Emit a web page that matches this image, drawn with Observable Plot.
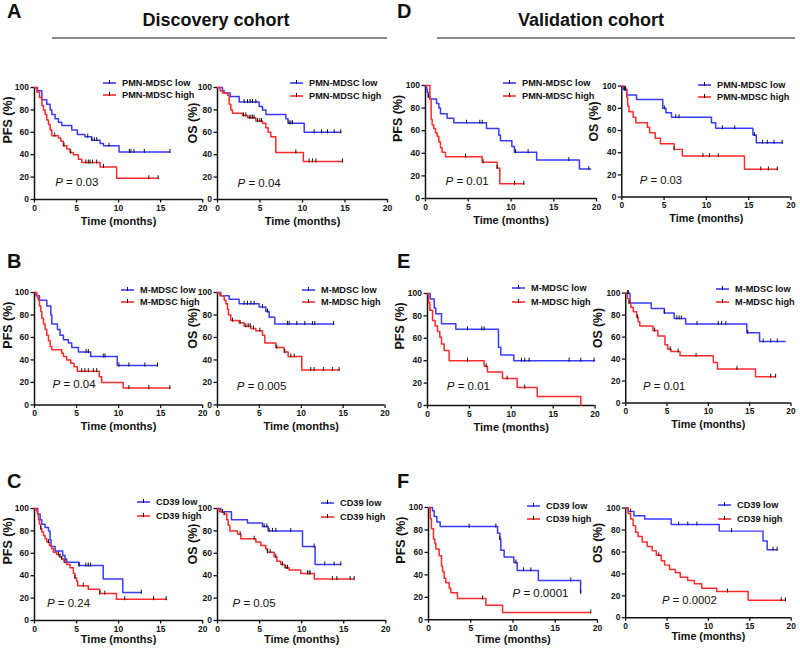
<!DOCTYPE html>
<html><head><meta charset="utf-8">
<script src="https://cdn.jsdelivr.net/npm/d3@7"></script>
<script src="https://cdn.jsdelivr.net/npm/@observablehq/plot@0.6"></script>
<style>
body{margin:0;background:#fff;font-family:"Liberation Sans",Arial,sans-serif;}
#root{position:relative;width:800px;height:650px;overflow:hidden;background:#fff;}
.panel{position:absolute;}
#overlay{position:absolute;left:0;top:0;}
</style></head><body><div id="root"></div>
<script>
// ---------- axis ticks ----------
const xTicks = [0, 5, 10, 15, 20];
const yTicks = [0, 20, 40, 60, 80, 100];

// ---------- Discovery cohort, PMN-MDSC ----------
const A_PFS_low_t = [0, 0.36, 0.87, 1.46, 1.86, 2.06, 2.45, 2.85, 3.25, 4.43, 5.1, 6.0, 6.8, 7.8, 8.2, 10.05, 16.1];
const A_PFS_low_s = [100, 97, 89, 85, 80, 76, 72, 69, 66, 62, 58, 56, 53, 50, 48, 42.5, 42.5];
const A_PFS_low_c = [6.33, 6.81, 7.12, 7.4, 8.86, 11.28, 11.47, 11.83, 13.06, 16.1];
const A_PFS_high_t = [0, 0.28, 0.59, 0.87, 1.07, 1.27, 1.46, 1.66, 1.86, 2.06, 2.85, 3.13, 3.44, 3.84, 4.23, 4.63, 5.22, 5.62, 7.8, 9.77, 14.7];
const A_PFS_high_s = [100, 96, 91, 84, 80, 76, 71, 67, 62, 57, 55, 52, 48, 45, 42, 40, 36, 33, 29, 19, 19];
const A_PFS_high_c = [2.4, 3.5, 4.3, 6.1, 6.4, 6.6, 6.9, 7.4, 8.2, 13.6, 14.7];

const A_OS_low_t = [0, 0.59, 0.78, 1.49, 2.55, 4.9, 5.3, 5.7, 8.04, 8.3, 10.2, 14.5];
const A_OS_low_s = [100, 97, 95, 92, 87, 83, 80, 76, 72, 68, 60, 60];
const A_OS_low_c = [3.14, 3.53, 3.84, 4.12, 4.51, 8.43, 8.63, 8.82, 11.37, 12.24, 12.94, 13.73, 14.5];
const A_OS_high_t = [0, 0.31, 0.59, 1.18, 1.37, 1.57, 1.76, 2.94, 3.53, 4.51, 5.29, 5.69, 5.96, 6.27, 6.86, 10.1, 14.7];
const A_OS_high_s = [100, 97, 95, 93, 85, 80, 77, 75, 73, 70, 68, 64, 60, 56, 42, 34, 34];
const A_OS_high_c = [3.06, 3.33, 3.73, 3.92, 4.12, 4.31, 4.71, 4.98, 5.18, 9.22, 10.78, 11.18, 11.57, 14.7];

// ---------- Validation cohort, PMN-MDSC ----------
const D_PFS_low_t = [0, 0.12, 0.19, 0.31, 0.51, 1.29, 1.56, 1.75, 2.53, 3.31, 7.13, 8.58, 8.77, 10.1, 10.4, 13.0, 18.0, 19.3];
const D_PFS_low_s = [100, 97, 94, 90, 88, 84, 80, 75, 71, 67, 62, 56, 51, 46, 41, 34, 26, 26];
const D_PFS_low_c = [0.35, 4.8, 6.35, 6.63, 10.53, 12.0, 16.76, 19.1];
const D_PFS_high_t = [0, 0.51, 0.66, 0.78, 0.97, 1.17, 1.36, 1.56, 1.75, 1.95, 2.34, 6.63, 8.38, 8.69, 11.5];
const D_PFS_high_s = [100, 88, 70, 65, 62, 58, 55, 50, 45, 41, 37, 32, 27, 13, 13];
const D_PFS_high_c = [4.68, 6.74, 8.38, 10.41, 11.5];

const D_OS_low_t = [0, 0.19, 0.58, 1.74, 4.84, 5.22, 5.88, 10.6, 11.1, 15.5, 15.9, 19.0];
const D_OS_low_s = [100, 97, 92, 88, 80, 76, 72, 67, 62, 56, 49, 49];
const D_OS_low_c = [0.31, 0.46, 5.03, 6.38, 6.77, 11.9, 13.35, 15.67, 16.63, 17.2, 17.99, 18.96];
const D_OS_high_t = [0, 0.39, 0.58, 0.70, 0.85, 1.35, 1.66, 3.02, 3.29, 3.95, 4.56, 6.19, 7.16, 14.5, 18.4];
const D_OS_high_s = [100, 97, 90, 82, 77, 72, 67, 63, 58, 53, 48, 43, 37, 25, 25];
const D_OS_high_c = [0.39, 6.19, 9.59, 10.37, 11.41, 16.44, 17.33, 18.38];

// ---------- Discovery cohort, M-MDSC ----------
const B_PFS_low_t = [0, 0.16, 0.59, 1.46, 1.94, 2.06, 2.73, 3.04, 3.44, 4.03, 4.43, 5.22, 6.68, 9.84, 14.6];
const B_PFS_low_s = [100, 97, 93, 88, 80, 72, 67, 62, 58, 55, 51, 47, 43, 35, 35];
const B_PFS_low_c = [6.13, 6.4, 8.18, 8.38, 10.04, 11.23, 13.12, 14.62];
const B_PFS_high_t = [0, 0.28, 0.36, 0.47, 0.59, 0.75, 0.87, 1.07, 1.26, 1.46, 1.66, 1.86, 2.06, 3.24, 3.44, 3.83, 4.31, 4.70, 5.1, 7.71, 7.98, 10.55, 16.1];
const B_PFS_high_s = [100, 97, 95, 93, 88, 83, 77, 72, 67, 62, 57, 52, 49, 46, 43, 40, 37, 34, 30, 25, 20, 15, 15];
const B_PFS_high_c = [5.61, 6.0, 6.4, 7.0, 7.39, 11.23, 13.6, 16.1];

const B_OS_low_t = [0, 0.40, 1.39, 2.58, 4.97, 5.77, 6.16, 6.84, 13.9];
const B_OS_low_s = [100, 97, 94, 90, 87, 83, 78, 72, 72];
const B_OS_low_c = [3.18, 3.58, 3.98, 4.37, 5.37, 5.96, 8.35, 8.55, 9.46, 10.42, 11.33, 11.61, 13.84];
const B_OS_high_t = [0, 0.28, 0.80, 0.99, 1.19, 1.31, 1.59, 2.58, 3.18, 3.98, 4.57, 5.37, 5.65, 6.96, 7.95, 8.43, 10.06, 14.5];
const B_OS_high_s = [100, 97, 93, 90, 85, 80, 75, 73, 70, 68, 66, 62, 55, 51, 47, 43, 31, 31];
const B_OS_high_c = [1.79, 2.7, 3.38, 3.66, 3.9, 4.29, 5.05, 7.08, 8.03, 8.75, 9.15, 11.13, 11.53, 12.64, 13.72, 14.51];

// ---------- Validation cohort, M-MDSC ----------
const E_PFS_low_t = [0, 0.32, 0.80, 0.99, 1.67, 3.38, 8.47, 8.75, 10.3, 19.9];
const E_PFS_low_s = [100, 95, 87, 82, 73, 68, 52, 45, 40, 40];
const E_PFS_low_c = [4.77, 6.48, 6.76, 11.21, 11.61, 12.13, 16.9, 18.29, 19.88];
const E_PFS_high_t = [0, 0.12, 0.28, 0.60, 0.91, 1.19, 1.47, 1.67, 1.99, 2.58, 6.76, 7.16, 8.95, 10.7, 13.1, 18.3];
const E_PFS_high_s = [100, 92, 85, 76, 71, 66, 61, 55, 49, 40, 35, 30, 24, 16, 8, 0];
const E_PFS_high_c = [4.77, 7.0, 9.5, 11.6];

const E_OS_low_t = [0, 0.51, 3.09, 4.67, 5.86, 7.25, 14.65, 16.2, 19.3];
const E_OS_low_s = [100, 91, 86, 82, 77, 72, 64, 56, 56];
const E_OS_low_c = [0.2, 0.32, 4.67, 6.18, 6.46, 6.73, 8.63, 11.2, 11.6, 12.12, 14.77, 16.63, 17.54, 18.34];
const E_OS_high_t = [0, 0.2, 0.40, 0.63, 0.91, 1.31, 1.50, 1.70, 3.29, 3.88, 4.75, 5.07, 5.47, 6.57, 10.6, 11.1, 15.7, 18.1];
const E_OS_high_s = [100, 95, 91, 87, 83, 78, 74, 70, 66, 61, 53, 49, 47, 43, 37, 31, 24, 24];
const E_OS_high_c = [0.4, 1.43, 3.49, 5.39, 6.34, 8.51, 13.47, 17.54, 18.14];

// ---------- Discovery cohort, CD39 ----------
const C_PFS_low_t = [0, 0.39, 0.67, 0.87, 1.26, 1.66, 1.85, 1.97, 2.45, 3.35, 3.63, 3.83, 5.29, 8.17, 10.5, 12.7];
const C_PFS_low_s = [100, 95, 90, 86, 83, 80, 72, 66, 62, 58, 55, 52, 49, 37, 25, 25];
const C_PFS_low_c = [5.29, 6.11, 6.39, 6.67, 12.7];
const C_PFS_high_t = [0, 0.2, 0.35, 0.47, 0.59, 0.75, 0.87, 1.07, 1.26, 1.46, 1.78, 2.05, 2.25, 2.64, 2.96, 3.23, 3.51, 3.83, 4.22, 4.62, 4.81, 5.01, 5.13, 6.39, 7.77, 9.74, 15.7];
const C_PFS_high_s = [100, 98, 95, 90, 86, 82, 79, 76, 73, 70, 67, 64, 61, 59, 57, 55, 52, 50, 47, 42, 38, 35, 31, 28, 24, 19, 19];
const C_PFS_high_c = [0.75, 1.66, 2.84, 3.04, 3.23, 3.63, 4.81, 5.8, 7.77, 8.36, 10.73, 14.16, 15.66];

const C_OS_low_t = [0, 0.40, 1.66, 3.56, 5.35, 6.02, 10.1, 11.6, 14.65];
const C_OS_low_s = [100, 97, 90, 87, 84, 80, 66, 50, 50];
const C_OS_low_c = [0.59, 5.54, 5.86, 6.14, 6.53, 6.93, 8.71, 11.49, 12.75, 13.86, 14.65];
const C_OS_high_t = [0, 0.2, 0.79, 1.11, 1.27, 1.47, 2.38, 2.77, 4.55, 5.15, 5.74, 5.94, 6.73, 7.05, 7.52, 8.0, 8.51, 9.9, 11.5, 16.2];
const C_OS_high_s = [100, 97, 95, 90, 85, 80, 77, 73, 70, 67, 64, 61, 57, 53, 50, 47, 45, 42, 37, 37];
const C_OS_high_c = [0.79, 2.69, 4.36, 5.94, 6.26, 6.93, 7.72, 8.12, 8.32, 10.69, 10.89, 11.01, 13.66, 14.18, 15.76, 16.24];

// ---------- Validation cohort, CD39 ----------
const F_PFS_low_t = [0, 0.47, 0.67, 0.99, 1.38, 8.17, 8.44, 8.56, 8.95, 10.1, 10.5, 13.0, 18.0];
const F_PFS_low_s = [100, 97, 92, 87, 83, 77, 72, 62, 56, 51, 44, 35, 24];
const F_PFS_low_c = [4.81, 7.97, 8.44, 10.34, 11.24, 12.11, 16.84, 18.0];
const F_PFS_high_t = [0, 0.2, 0.35, 0.59, 0.75, 0.87, 1.26, 1.54, 1.66, 1.85, 2.05, 2.45, 2.64, 3.43, 6.79, 8.76, 19.2];
const F_PFS_high_s = [100, 90, 81, 72, 68, 63, 57, 48, 43, 37, 33, 28, 24, 19, 13, 6.5, 6.5];
const F_PFS_high_c = [6.4, 19.2];

const F_OS_low_t = [0, 0.3, 1.0, 2.3, 5.5, 11.3, 16.6, 17.1, 18.3];
const F_OS_low_s = [100, 97, 93, 90, 85, 79, 70, 62, 62];
const F_OS_low_c = [0.6, 6.4, 7.5, 8.6, 12.8, 17.8, 18.3];
const F_OS_high_t = [0, 0.3, 0.6, 0.9, 1.2, 1.5, 2.0, 2.6, 3.2, 3.7, 4.3, 4.7, 5.3, 6.0, 6.6, 7.5, 8.3, 9.2, 11.0, 14.8, 19.3];
const F_OS_high_s = [100, 95, 90, 84, 78, 74, 69, 65, 61, 57, 52, 48, 44, 41, 37, 34, 31, 27, 24, 16, 16];
const F_OS_high_c = [4.0, 12.3, 18.8, 19.3];

// ---------- texts ----------
const groupNames = {
  PMN: ["PMN-MDSC low", "PMN-MDSC high"],
  M: ["M-MDSC low", "M-MDSC high"],
  CD39: ["CD39 low", "CD39 high"]
};
const pValues = {A_PFS: "0.03", A_OS: "0.04", D_PFS: "0.01", D_OS: "0.03",
  B_PFS: "0.04", B_OS: "0.005", E_PFS: "0.01", E_OS: "0.01",
  C_PFS: "0.24", C_OS: "0.05", F_PFS: "0.0001", F_OS: "0.0002"};
const cohortTitles = ["Discovery cohort", "Validation cohort"];
const panelLetters = ["A", "B", "C", "D", "E", "F"];

// ---------- panel definitions ----------
const panels = [
  {id: "A_PFS", ylab: "PFS (%)", grp: "PMN", low: [A_PFS_low_t, A_PFS_low_s, A_PFS_low_c], high: [A_PFS_high_t, A_PFS_high_s, A_PFS_high_c]},
  {id: "A_OS", ylab: "OS (%)", grp: "PMN", low: [A_OS_low_t, A_OS_low_s, A_OS_low_c], high: [A_OS_high_t, A_OS_high_s, A_OS_high_c]},
  {id: "D_PFS", ylab: "PFS (%)", grp: "PMN", low: [D_PFS_low_t, D_PFS_low_s, D_PFS_low_c], high: [D_PFS_high_t, D_PFS_high_s, D_PFS_high_c]},
  {id: "D_OS", ylab: "OS (%)", grp: "PMN", low: [D_OS_low_t, D_OS_low_s, D_OS_low_c], high: [D_OS_high_t, D_OS_high_s, D_OS_high_c]},
  {id: "B_PFS", ylab: "PFS (%)", grp: "M", low: [B_PFS_low_t, B_PFS_low_s, B_PFS_low_c], high: [B_PFS_high_t, B_PFS_high_s, B_PFS_high_c]},
  {id: "B_OS", ylab: "OS (%)", grp: "M", low: [B_OS_low_t, B_OS_low_s, B_OS_low_c], high: [B_OS_high_t, B_OS_high_s, B_OS_high_c]},
  {id: "E_PFS", ylab: "PFS (%)", grp: "M", low: [E_PFS_low_t, E_PFS_low_s, E_PFS_low_c], high: [E_PFS_high_t, E_PFS_high_s, E_PFS_high_c]},
  {id: "E_OS", ylab: "OS (%)", grp: "M", low: [E_OS_low_t, E_OS_low_s, E_OS_low_c], high: [E_OS_high_t, E_OS_high_s, E_OS_high_c]},
  {id: "C_PFS", ylab: "PFS (%)", grp: "CD39", low: [C_PFS_low_t, C_PFS_low_s, C_PFS_low_c], high: [C_PFS_high_t, C_PFS_high_s, C_PFS_high_c]},
  {id: "C_OS", ylab: "OS (%)", grp: "CD39", low: [C_OS_low_t, C_OS_low_s, C_OS_low_c], high: [C_OS_high_t, C_OS_high_s, C_OS_high_c]},
  {id: "F_PFS", ylab: "PFS (%)", grp: "CD39", low: [F_PFS_low_t, F_PFS_low_s, F_PFS_low_c], high: [F_PFS_high_t, F_PFS_high_s, F_PFS_high_c]},
  {id: "F_OS", ylab: "OS (%)", grp: "CD39", low: [F_OS_low_t, F_OS_low_s, F_OS_low_c], high: [F_OS_high_t, F_OS_high_s, F_OS_high_c]}
];

// ---------- layout (pixel geometry, separate from data) ----------
const layout = {
  A_PFS: {x0: 34.3, x20: 202.5, y100: 87.3, y0: 199.3, lab: -27, tdy: 25.5, leg: [103, 83, 95], p: [20.7, 13.3]},
  A_OS:  {x0: 216.7, x20: 386.7, y100: 87.3, y0: 199.3, lab: -25, tdy: 25.5, leg: [290, 83, 96], p: [20, 12.6]},
  D_PFS: {x0: 425, x20: 596, y100: 85.3, y0: 198.3, lab: -28, tdy: 25.5, leg: [503, 83, 96], p: [20, 13.3]},
  D_OS:  {x0: 621.7, x20: 794, y100: 86.3, y0: 199.3, lab: -28.5, tdy: 25.5, leg: [698, 85, 97], p: [18.3, 13.6]},
  B_PFS: {x0: 34.3, x20: 202.5, y100: 292.3, y0: 404.7, lab: -27, tdy: 25.5, leg: [121, 290, 302], p: [18, 16.4]},
  B_OS:  {x0: 216.7, x20: 384.3, y100: 292.3, y0: 404.7, lab: -25, tdy: 25.5, leg: [302, 290, 302], p: [19.3, 14.7]},
  E_PFS: {x0: 426.7, x20: 594.3, y100: 293, y0: 405, lab: -28, tdy: 25.5, leg: [512, 288, 302], p: [19.3, 15]},
  E_OS:  {x0: 625.7, x20: 794, y100: 293.3, y0: 405.3, lab: -28.5, tdy: 25.5, leg: [716, 289, 302], p: [17.6, 13.6]},
  C_PFS: {x0: 34.3, x20: 202.5, y100: 508, y0: 620, lab: -27, tdy: 23, leg: [137, 502, 516], p: [12.4, 13.3]},
  C_OS:  {x0: 216.7, x20: 385, y100: 508, y0: 620, lab: -25, tdy: 23, leg: [321, 503, 517], p: [15, 13.3]},
  F_PFS: {x0: 427.7, x20: 596.7, y100: 507, y0: 619.3, lab: -28, tdy: 23, leg: [527, 506, 519], p: [84, 22.6]},
  F_OS:  {x0: 625.5, x20: 794.5, y100: 508, y0: 620, lab: -28.5, tdy: 23, leg: [718, 505, 519], p: [37, 14]}
};

const BLUE = "#3a3aff", RED = "#ff2a2a", INK = "#111";
const FONT = "'Liberation Sans', Arial, Helvetica, sans-serif";
const ML = 40, MR = 10, MT = 20, MB = 36;

function steps(t, s) { return t.map((ti, i) => ({t: ti, s: s[i]})); }
function censors(t, s, c) {
  return c.map(ci => {
    let v = s[0];
    for (let i = 0; i < t.length; i++) if (t[i] <= ci) v = s[i];
    return {t: ci, s: v};
  });
}
const tickSymbol = {
  draw(ctx, size) {
    const h = Math.sqrt(size / Math.PI);
    ctx.moveTo(0, -h);
    ctx.lineTo(0, h * 0.35);
  }
};

const root = document.getElementById("root");

for (const pn of panels) {
  const g = layout[pn.id];
  const W = ML + (g.x20 - g.x0) + MR;
  const H = MT + (g.y0 - g.y100) + MB;
  const lowLine = steps(pn.low[0], pn.low[1]);
  const highLine = steps(pn.high[0], pn.high[1]);
  const lowC = censors(pn.low[0], pn.low[1], pn.low[2]);
  const highC = censors(pn.high[0], pn.high[1], pn.high[2]);
  const chart = Plot.plot({
    width: W, height: H,
    marginLeft: ML, marginRight: MR, marginTop: MT, marginBottom: MB,
    x: {domain: [0, 20]},
    y: {domain: [0, 100]},
    style: {fontFamily: FONT, background: "transparent", overflow: "visible", color: INK},
    marks: [
      Plot.axisX({ticks: xTicks, tickSize: 3.5, tickPadding: 2, fontSize: 8.5, fontWeight: "bold", label: null, strokeWidth: 1.3, stroke: INK, fill: INK}),
      Plot.axisY({ticks: yTicks, tickSize: 3.5, tickPadding: 2, fontSize: 8.5, fontWeight: "bold", label: null, strokeWidth: 1.3, stroke: INK, fill: INK}),
      Plot.ruleX([0], {stroke: INK, strokeWidth: 1.5}),
      Plot.ruleY([0], {stroke: INK, strokeWidth: 1.5}),
      Plot.line(lowLine, {x: "t", y: "s", curve: "step-after", stroke: BLUE, strokeWidth: 1.5}),
      Plot.line(highLine, {x: "t", y: "s", curve: "step-after", stroke: RED, strokeWidth: 1.5}),
      Plot.dot(lowC, {x: "t", y: "s", symbol: tickSymbol, r: 3, fill: "none", stroke: INK, strokeWidth: 1}),
      Plot.dot(highC, {x: "t", y: "s", symbol: tickSymbol, r: 3, fill: "none", stroke: INK, strokeWidth: 1}),
      Plot.text([pn.ylab], {frameAnchor: "left", rotate: -90, dx: g.lab, fontSize: 12.5, fontWeight: "bold", fill: INK}),
      Plot.text(["Time (months)"], {frameAnchor: "bottom", dy: g.tdy, fontSize: 11, fontWeight: "bold", fill: INK}),
      Plot.text(["P"], {frameAnchor: "bottom-left", textAnchor: "start", dx: g.p[0], dy: -g.p[1], fontSize: 11.5, fontStyle: "italic", fill: INK}),
      Plot.text([" = " + pValues[pn.id]], {frameAnchor: "bottom-left", textAnchor: "start", dx: g.p[0] + 7.7, dy: -g.p[1], fontSize: 11.5, fill: INK})
    ]
  });
  const div = document.createElement("div");
  div.className = "panel";
  div.style.left = (g.x0 - ML) + "px";
  div.style.top = (g.y100 - MT) + "px";
  div.appendChild(chart);
  root.appendChild(div);
}

// ---------- overlay: headings, letters, legends ----------
const svg = d3.select(root).append("svg").attr("id", "overlay")
  .attr("width", 800).attr("height", 650)
  .style("font-family", FONT);

const heads = [
  {text: cohortTitles[0], cx: 216, x1: 52, x2: 387},
  {text: cohortTitles[1], cx: 591, x1: 437, x2: 795}
];
for (const h of heads) {
  svg.append("text").attr("x", h.cx).attr("y", 26).attr("text-anchor", "middle")
    .attr("font-size", 18).attr("font-weight", "bold").attr("fill", INK).text(h.text);
  svg.append("line").attr("x1", h.x1).attr("x2", h.x2).attr("y1", 38).attr("y2", 38)
    .attr("stroke", INK).attr("stroke-width", 1.2);
}
const letterPos = [[7, 18], [7, 268], [7, 488], [397, 18], [397, 268], [397, 488]];
panelLetters.forEach((L, i) => {
  svg.append("text").attr("x", letterPos[i][0]).attr("y", letterPos[i][1])
    .attr("font-size", 20).attr("font-weight", "bold").attr("fill", INK).text(L);
});

for (const pn of panels) {
  const g = layout[pn.id];
  const names = groupNames[pn.grp];
  [[BLUE, g.leg[1], names[0]], [RED, g.leg[2], names[1]]].forEach(([col, y, name]) => {
    const lx = g.leg[0];
    svg.append("line").attr("x1", lx).attr("x2", lx + 13).attr("y1", y).attr("y2", y)
      .attr("stroke", col).attr("stroke-width", 1.6);
    svg.append("line").attr("x1", lx + 6.5).attr("x2", lx + 6.5).attr("y1", y - 3).attr("y2", y + 1)
      .attr("stroke", INK).attr("stroke-width", 1);
    svg.append("text").attr("x", lx + 19).attr("y", y + 3.3)
      .attr("font-size", 9.2).attr("font-weight", "bold").attr("fill", INK).text(name);
  });
}
</script>
</body></html>
